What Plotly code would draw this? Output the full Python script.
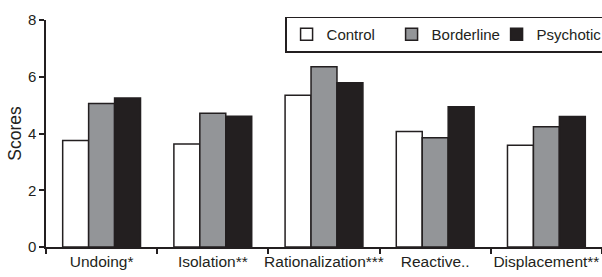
import plotly.graph_objects as go

categories = ["Undoing*", "Isolation**", "Rationalization***", "Reactive..", "Displacement**"]
control = [3.75, 3.63, 5.35, 4.07, 3.59]
borderline = [5.06, 4.71, 6.35, 3.85, 4.24]
psychotic = [5.25, 4.61, 5.79, 4.94, 4.60]
series = [("Control", control, "#ffffff"), ("Borderline", borderline, "#939598"), ("Psychotic", psychotic, "#231f20")]

FONT = "Liberation Sans, Arial, sans-serif"

fig = go.Figure()
for name, vals, col in series:
    fig.add_trace(go.Bar(x=categories, y=vals, name=name,
                         marker=dict(color=col, line=dict(color="#231f20", width=1.5))))

fig.update_layout(
    width=602, height=277,
    margin=dict(l=46, r=0, t=20, b=30, autoexpand=False),
    paper_bgcolor="white", plot_bgcolor="white",
    barmode="group", bargap=0.3, bargroupgap=0,
    font=dict(family=FONT, size=15, color="#231f20"),
    showlegend=True,
    legend=dict(orientation="h", x=0.43, xanchor="left", y=1.015, yanchor="top",
                bordercolor="#231f20", borderwidth=1.5, bgcolor="white",
                font=dict(size=15), itemwidth=30, tracegroupgap=0,
                entrywidth=60, entrywidthmode="pixels"),
    xaxis=dict(showline=True, linecolor="#231f20", linewidth=1.5, ticks="outside",
               tickson="boundaries", ticklen=5, tickcolor="#231f20", tickwidth=1.5,
               showgrid=False, tickfont=dict(size=15.5), tickangle=0),
    yaxis=dict(range=[0, 8], dtick=2, showline=True, linecolor="#231f20", linewidth=1.5,
               ticks="outside", ticklen=5, tickcolor="#231f20", tickwidth=1.5,
               showgrid=False, zeroline=False, tickfont=dict(size=15),
               title=dict(text="Scores", font=dict(size=17.5), standoff=2)),
)

fig.write_html("out.html", config={"displayModeBar": False},
               post_script="document.body.style.margin='0';document.body.style.overflow='hidden';")
